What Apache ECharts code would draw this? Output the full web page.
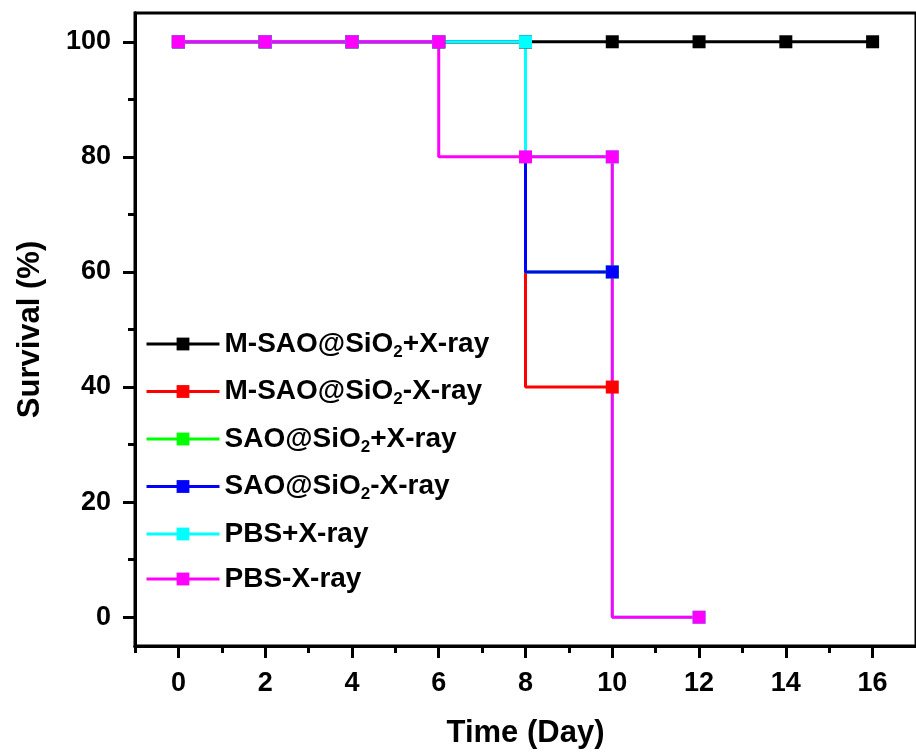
<!DOCTYPE html>
<html>
<head>
<meta charset="utf-8">
<script src="https://cdn.jsdelivr.net/npm/echarts@6/dist/echarts.min.js"></script>
<style>
  html, body { margin: 0; padding: 0; background: #fff; }
  #main { width: 916px; height: 754px; }
</style>
</head>
<body>
<div id="main"></div>
<script>
var days = [0, 2, 4, 6, 8, 10, 12, 14, 16];
var seriesNames = ['M-SAO@SiO2+X-ray', 'M-SAO@SiO2-X-ray', 'SAO@SiO2+X-ray', 'SAO@SiO2-X-ray', 'PBS+X-ray', 'PBS-X-ray'];
var mSaoPlus = [100, 100, 100, 100, 100, 100, 100, 100, 100];
var mSaoMinus = [100, 100, 100, 100, 100, 40];
var saoPlus = [100, 100, 100, 100, 100, 60];
var saoMinus = [100, 100, 100, 100, 100, 60];
var pbsPlus = [100, 100, 100, 100, 100, 80, 0];
var pbsMinus = [100, 100, 100, 100, 80, 80, 0];
var colors = ['#000000', '#ff0000', '#00ff00', '#0000ff', '#00ffff', '#ff00ff'];
var xMajor = [0, 2, 4, 6, 8, 10, 12, 14, 16];
var xMinor = [-1, 1, 3, 5, 7, 9, 11, 13, 15];
var yMajor = [0, 20, 40, 60, 80, 100];
var yMinor = [10, 30, 50, 70, 90];

var font = '"Liberation Sans", Arial, sans-serif';
var allValues = [mSaoPlus, mSaoMinus, saoPlus, saoMinus, pbsPlus, pbsMinus];

function pairs(vals) {
  var out = [];
  for (var i = 0; i < vals.length; i++) out.push([days[i], vals[i]]);
  return out;
}

var series = [];
for (var s = 0; s < seriesNames.length; s++) {
  series.push({
    name: seriesNames[s],
    type: 'line',
    step: 'start',
    data: pairs(allValues[s]),
    symbol: 'rect',
    symbolSize: 13,
    showAllSymbol: true,
    lineStyle: { width: 3, color: colors[s] },
    itemStyle: { color: colors[s] }
  });
}

var axisLine = { show: true, onZero: false, lineStyle: { color: '#000', width: 3 } };
var labelStyle = { color: '#000', fontSize: 27, fontWeight: 'bold', fontFamily: font };

echarts.init(document.getElementById('main')).setOption({
  animation: false,
  color: colors,
  grid: {
    left: 135, right: -3, top: 13, bottom: 108,
    show: true, borderColor: '#000', borderWidth: 3
  },
  xAxis: [{
    type: 'value', min: -1, max: 17,
    name: 'Time (Day)', nameLocation: 'middle', nameGap: 72,
    nameTextStyle: { color: '#000', fontSize: 31, fontWeight: 'bold', fontFamily: font },
    axisLine: axisLine,
    axisTick: { show: true, inside: false, length: 12, customValues: xMajor, lineStyle: { color: '#000', width: 3 } },
    axisLabel: Object.assign({ margin: 24, customValues: xMajor }, labelStyle),
    splitLine: { show: false }
  }, {
    type: 'value', min: -1, max: 17, position: 'bottom',
    axisLine: axisLine,
    axisTick: { show: true, inside: false, length: 7, customValues: xMinor, lineStyle: { color: '#000', width: 3 } },
    axisLabel: { show: false },
    splitLine: { show: false }
  }],
  yAxis: [{
    type: 'value', min: -5, max: 105,
    name: 'Survival (%)', nameLocation: 'middle', nameGap: 89,
    nameTextStyle: { color: '#000', fontSize: 31, fontWeight: 'bold', fontFamily: font },
    axisLine: axisLine,
    axisTick: { show: true, inside: false, length: 12, customValues: yMajor, lineStyle: { color: '#000', width: 3 } },
    axisLabel: Object.assign({ margin: 24, customValues: yMajor }, labelStyle),
    splitLine: { show: false }
  }, {
    type: 'value', min: -5, max: 105, position: 'left',
    axisLine: axisLine,
    axisTick: { show: true, inside: false, length: 7, customValues: yMinor, lineStyle: { color: '#000', width: 3 } },
    axisLabel: { show: false },
    splitLine: { show: false }
  }],
  legend: {
    orient: 'vertical',
    left: 140, top: 325,
    itemWidth: 73, itemHeight: 16, itemGap: 17,
    lineStyle: { width: 3 },
    data: seriesNames,
    formatter: function (n) { return n.replace('SiO2', 'SiO{sub|2}'); },
    textStyle: {
      color: '#000', fontSize: 28, fontWeight: 'bold', fontFamily: font,
      rich: {
        sub: { color: '#000', fontSize: 17, fontWeight: 'bold', fontFamily: font, padding: [16, 0, 0, 0] }
      }
    }
  },
  series: series
});
</script>
</body>
</html>
